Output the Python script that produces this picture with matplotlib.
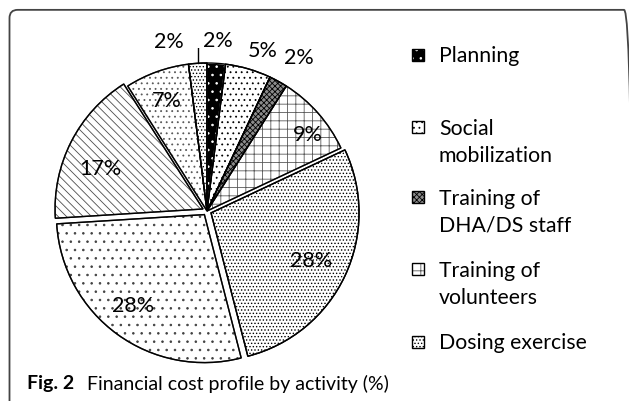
import matplotlib.pyplot as plt
import numpy as np
from matplotlib.patches import FancyBboxPatch, Rectangle, Wedge

# data (clockwise from 12 o'clock)
activities = ['Planning', 'Social\nmobilization', 'Training of\nDHA/DS staff',
              'Training of\nvolunteers', 'Dosing exercise',
              'Activity 6', 'Activity 7', 'Activity 8', 'Activity 9']
shares = [2, 5, 2, 9, 28, 28, 17, 7, 2]
pct_labels = ['2%', '5%', '2%', '9%', '28%', '28%', '17%', '7%', '2%']
exploded = [0, 0, 0, 0, 1, 1, 1, 0, 0]
n_legend = 5

# style per slice
hatches = ['..', '...', 'xxxxxx', '++', '.....', '..', '\\\\\\\\', '...', '.....']
faces = ['black', 'white', '0.55', 'white', 'white', 'white', 'white', 'white', 'white']
hatch_cols = ['white', 'black', 'black', '0.35', 'black', '0.25', '0.3', '0.35', 'black']
lab_r = [1.16, 1.15, 1.21, 0.86, 0.78, 0.81, 0.78, 0.8, 1.18]
lab_shift = [0, -3, -2, -4, 0, -2, 5, 0, 9]

plt.rcParams['hatch.linewidth'] = 0.6
plt.rcParams['font.family'] = ['Lato', 'DejaVu Sans']

fig = plt.figure(figsize=(6.29, 4.02), dpi=100)

# rounded frame
box = FancyBboxPatch((9.5 / 629, -0.05), 0.99, 1.023, boxstyle='round,pad=0,rounding_size=0.013',
                     mutation_aspect=629 / 402, transform=fig.transFigure, fill=False,
                     edgecolor='#444444', lw=1.3)
fig.patches.append(box)

cx, cy, R = 207, 212, 148
half = 1.1 * R
ax = fig.add_axes([(cx - half) / 629, (402 - cy - half) / 402, 2 * half / 629, 2 * half / 402])

wedges, _ = ax.pie(shares, startangle=90, counterclock=False,
                   explode=[0.03 * e for e in exploded],
                   colors=faces, wedgeprops=dict(linewidth=1.0, edgecolor='black'))
for w, h, hc in zip(wedges, hatches, hatch_cols):
    w.set_hatch(h)
    w.set_edgecolor(hc)
    # outline drawn on top
    ax.add_patch(Wedge(w.center, w.r, w.theta1, w.theta2, fill=False, edgecolor='black', lw=1.0))

for w, lab, r, sh in zip(wedges, pct_labels, lab_r, lab_shift):
    ang = np.deg2rad((w.theta1 + w.theta2) / 2 + sh)
    ax.text(r * np.cos(ang), r * np.sin(ang), lab, ha='center', va='center', fontsize=15.5)

# leader line for the last small slice
w = wedges[-1]
ang = np.deg2rad((w.theta1 + w.theta2) / 2)
x0, y0 = np.cos(ang), np.sin(ang)
ax.plot([x0, x0, x0 - 0.07], [y0, y0 + 0.14, y0 + 0.14], color='black', lw=1.0)

ax.set_xlim(-1.1, 1.1)
ax.set_ylim(-1.1, 1.1)
ax.set_aspect('equal')
ax.axis('off')

# legend (only the first entries are visible in the original); marker sits on the first line
leg_y = [56, 128, 198, 270, 343]
line_px = 29
for i in range(n_legend):
    y = 1 - leg_y[i] / 402
    sq = Rectangle((412 / 629, y - 6 / 402), 12 / 629, 12 / 402, transform=fig.transFigure,
                   facecolor=faces[i], edgecolor=hatch_cols[i], hatch=hatches[i], lw=0)
    fig.patches.append(sq)
    fig.patches.append(Rectangle((412 / 629, y - 6 / 402), 12 / 629, 12 / 402,
                                 transform=fig.transFigure, fill=False, edgecolor='black', lw=1.0))
    nlines = activities[i].count('\n') + 1
    ty = 1 - (leg_y[i] + line_px * (nlines - 1) / 2) / 402
    fig.text(439 / 629, ty, activities[i], ha='left', va='center', fontsize=15.3, linespacing=1.4)

# caption
fig.text(27 / 629, 1 - 384 / 402, 'Fig. 2', fontsize=14, fontweight='bold', va='center')
fig.text(87 / 629, 1 - 384 / 402, 'Financial cost profile by activity (%)', fontsize=14,
         va='center')

fig.savefig('out.png', dpi=100)
